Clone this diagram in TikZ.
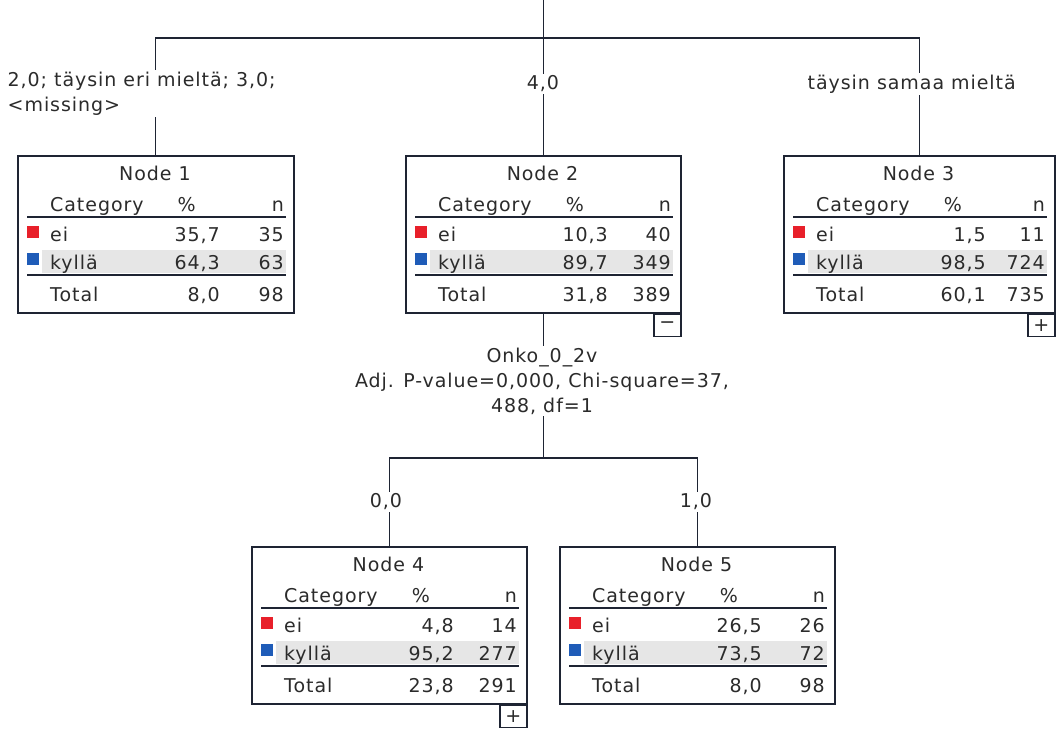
\documentclass[tikz,border=0pt]{standalone}
\usepackage{fontspec}
\setmainfont{DejaVu Sans}[LetterSpace=5]
\definecolor{ink}{HTML}{2B2B2B}
\definecolor{redsq}{HTML}{E8202A}
\definecolor{bluesq}{HTML}{1F5CB8}
\definecolor{bandgray}{HTML}{E6E6E6}
\definecolor{frame}{HTML}{1E2433}
\tikzset{
  txt/.style={inner sep=0pt, text=ink, font=\fontsize{19}{25}\selectfont},
  box/.style={draw=frame, line width=1.6pt, inner sep=0pt},
  rulel/.style={draw=frame, line width=1.5pt},
  conn/.style={draw=frame, line width=1.3pt},
  lab/.style={txt, fill=white, inner sep=1.5pt},
  pm/.style={draw=frame, line width=1.4pt, minimum width=27pt, minimum height=22pt, inner sep=0pt, txt}
}
\newcommand\treenode[9]{%
  \fill[bandgray] (25,95) rectangle ({#2-7},118);
  \node[box, anchor=north west, minimum width=#2pt, minimum height=157pt] (#1) at (0,0) {};
  \fill[redsq] (10,71) rectangle (22,83);
  \fill[bluesq] (10,98) rectangle (22,110);
  \draw[rulel] (10,62) -- ({#2-7},62);
  \draw[rulel] (10,120) -- ({#2-7},120);
  \node[txt, anchor=base] (#1-t) at ({#2/2},25) {Node #3};
  \node[txt, anchor=base west] (#1-ch) at (33,56) {Category};
  \node[txt, anchor=base east] (#1-ph) at (179,56) {\%};
  \node[txt, anchor=base east] (#1-nh) at ({#2-9},56) {n};
  \node[txt, anchor=base west] (#1-c1) at (33,86) {ei};
  \node[txt, anchor=base east] (#1-p1) at (203,86) {#4};
  \node[txt, anchor=base east] (#1-n1) at ({#2-9},86) {#5};
  \node[txt, anchor=base west] (#1-c2) at (33,114) {kyllä};
  \node[txt, anchor=base east] (#1-p2) at (203,114) {#6};
  \node[txt, anchor=base east] (#1-n2) at ({#2-9},114) {#7};
  \node[txt, anchor=base west] (#1-c3) at (33,146) {Total};
  \node[txt, anchor=base east] (#1-p3) at (203,146) {#8};
  \node[txt, anchor=base east] (#1-n3) at ({#2-9},146) {#9};
}
\begin{document}
\begin{tikzpicture}[x=1pt,y=-1pt]
\useasboundingbox[fill=white] (0,0) rectangle (1059,728);
% nodes
\begin{scope}[shift={(17,155)}]
  \treenode{n1}{276}{1}{35,7}{35}{64,3}{63}{8,0}{98}
\end{scope}
\begin{scope}[shift={(405,155)}]
  \treenode{n2}{275}{2}{10,3}{40}{89,7}{349}{31,8}{389}
\end{scope}
\begin{scope}[shift={(783,155)}]
  \treenode{n3}{271}{3}{1,5}{11}{98,5}{724}{60,1}{735}
\end{scope}
\begin{scope}[shift={(251,546)}]
  \treenode{n4}{275}{4}{4,8}{14}{95,2}{277}{23,8}{291}
\end{scope}
\begin{scope}[shift={(559,546)}]
  \treenode{n5}{275}{5}{26,5}{26}{73,5}{72}{8,0}{98}
\end{scope}
\node[pm, anchor=north east] (n2pm) at (n2.south east) {−};
\node[pm, anchor=north east] (n3pm) at (n3.south east) {+};
\node[pm, anchor=north east] (n4pm) at (n4.south east) {+};
% connectors
\coordinate (ytop) at (0,0);
\coordinate (y1) at (0,38);
\coordinate (y2) at (0,458);
\coordinate (root) at (n2.north |- ytop);
\coordinate (s1) at (n2.north |- y1);
\coordinate (s2) at (n2.south |- y2);
\draw[conn] (root) -- (s1);
\draw[conn] (s1) -| (n1.north);
\draw[conn] (s1) -| (n3.north);
\draw[conn] (s1) -- (n2.north);
\draw[conn] (n2.south) -- (s2);
\draw[conn] (s2) -| (n4.north);
\draw[conn] (s2) -| (n5.north);
% labels
\node[lab, anchor=north west, align=left] (l1) at (6,70) {2,0; täysin eri mieltä; 3,0;\\<missing>};
\node[lab] (l2) at (543,84) {4,0};
\node[lab, anchor=west] (l3) at (806,84) {täysin samaa mieltä};
\node[lab, align=center] (l4) at (542,381) {Onko\_0\_2v\\Adj. P-value=0,000, Chi-square=37,\\488, df=1};
\node[lab] (l5) at (386,502) {0,0};
\node[lab] (l6) at (696,502) {1,0};
\end{tikzpicture}
\end{document}
